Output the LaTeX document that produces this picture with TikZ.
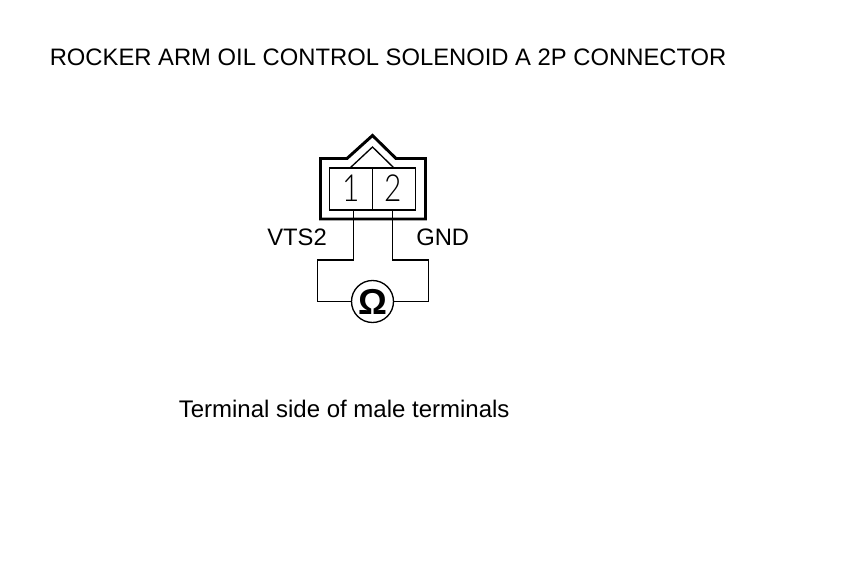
\documentclass[tikz,border=0pt]{standalone}
\usepackage{fontspec}
\setmainfont{Liberation Sans}
\newfontfamily\digitfont[FakeStretch=0.8]{Lato Light}
\newcommand{\pxsize}[1]{\fontsize{#1}{#1}\selectfont}
\tikzset{
  lbl/.style={inner sep=0pt,anchor=base west,font=\pxsize{17.85}},
  thickln/.style={line width=2.2pt,line join=miter},
  thinln/.style={line width=1pt},
  wireln/.style={line width=1pt,line join=miter},
  digit/.style={inner sep=0pt,font=\digitfont\pxsize{28}},
}
\begin{document}
\begin{tikzpicture}[x=0.75pt,y=-0.75pt]
\useasboundingbox (0,0) rectangle (860,580);
\fill[white] (0,0) rectangle (860,580);
% text
\node[lbl] (title) at (49.5,66) {ROCKER ARM OIL CONTROL SOLENOID A 2P CONNECTOR};
\node[lbl] (vts) at (267,246) {VTS2};
\node[lbl] (gnd) at (416,246) {GND};
\node[lbl,font=\pxsize{18}] (side) at (178.5,417.5) {Terminal side of male terminals};
% housing
\draw[thickln] (347,158.5) -- (372.5,135.5) -- (396,158.5) -- (425.5,158.5) -- (425.5,219) -- (320.5,219) -- (320.5,158.5) -- cycle;
\draw[thinln] (350,168) -- (372.5,147) -- (394,168);
\node[draw,line width=1pt,minimum width=86pt*0.75,minimum height=42pt*0.75,inner sep=0pt] (cell) at (372.5,189) {};
\coordinate (divt) at (372.5,168);
\coordinate (divb) at (372.5,210);
\draw[thinln] (divt) -- (divb);
\node[digit] (d1) at (351.5,188.5) {1};
\node[digit] (d2) at (393.5,188.5) {2};
% meter
\node[circle,draw,line width=1pt,minimum size=31.5pt,inner sep=0pt,font=\bfseries\pxsize{27}] (ohm) at (372.5,301.5) {Ω};
\coordinate (p1) at (353.5,210);
\coordinate (p2) at (392.5,210);
\draw[wireln] (p1) -- (353.5,260) -- (317.5,260) -- (317.5,301.5) -- (ohm.west);
\draw[wireln] (p2) -- (392.5,260) -- (428.5,260) -- (428.5,301.5) -- (ohm.east);
\end{tikzpicture}
\end{document}
